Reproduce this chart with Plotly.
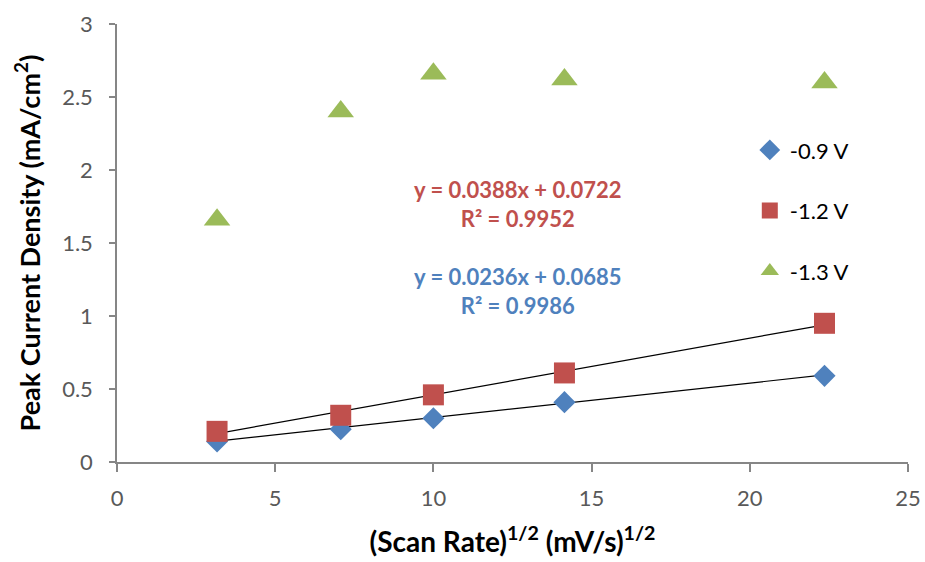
import plotly.graph_objects as go

scan_rate_sqrt = [3.162, 7.071, 10.0, 14.142, 22.361]
series_names = ["-0.9 V", "-1.2 V", "-1.3 V"]
vals_09 = [0.14, 0.225, 0.30, 0.41, 0.59]
vals_12 = [0.21, 0.32, 0.46, 0.61, 0.95]
vals_13 = [1.66, 2.40, 2.66, 2.62, 2.60]
fit_slopes = [0.0236, 0.0388]
fit_intercepts = [0.0685, 0.0722]
fit_r2 = [0.9986, 0.9952]

BLUE = "#4F81BD"
RED = "#C0504D"
GREEN = "#9BBB59"
FONT = "Lato"

fig = go.Figure()

# trendlines (linear fits, drawn from the fitted equations across the data range)
x0, x1 = scan_rate_sqrt[0], scan_rate_sqrt[-1]
for m, b in zip(fit_slopes, fit_intercepts):
    fig.add_trace(go.Scatter(x=[x0, x1], y=[m * x0 + b, m * x1 + b], mode="lines",
                             line=dict(color="#000000", width=1.2), showlegend=False,
                             hoverinfo="skip"))

fig.add_trace(go.Scatter(x=scan_rate_sqrt, y=vals_09, mode="markers", name=series_names[0],
                         legendgroup="a",
                         marker=dict(symbol="diamond", size=17, color=BLUE)))
fig.add_trace(go.Scatter(x=scan_rate_sqrt, y=vals_12, mode="markers", name=series_names[1],
                         legendgroup="b",
                         marker=dict(symbol="square", size=21, color=RED)))
fig.add_trace(go.Scatter(x=scan_rate_sqrt, y=vals_13, mode="markers", name=series_names[2],
                         legendgroup="c",
                         marker=dict(symbol="triangle-up", size=23, color=GREEN)))

fig.add_annotation(x=12.67, y=1.77, xref="x", yref="y", showarrow=False,
                   text=f"y = {fit_slopes[1]}x + {fit_intercepts[1]}<br>R² = {fit_r2[1]}",
                   font=dict(family=FONT, size=22, color=RED, weight="bold"), align="center")
fig.add_annotation(x=12.67, y=1.17, xref="x", yref="y", showarrow=False,
                   text=f"y = {fit_slopes[0]}x + {fit_intercepts[0]}<br>R² = {fit_r2[0]}",
                   font=dict(family=FONT, size=22, color=BLUE, weight="bold"), align="center")

axis_common = dict(showgrid=False, zeroline=False, showline=True, linecolor="#868686",
                   linewidth=1.5, ticks="outside", tickcolor="#868686", tickwidth=1.5,
                   automargin=False,
                   tickfont=dict(family=FONT, size=22, color="#595959"))

fig.update_layout(
    width=925, height=562,
    margin=dict(l=117, r=17, t=24, b=100),
    paper_bgcolor="white", plot_bgcolor="white",
    xaxis=dict(range=[0, 25], dtick=5, ticklen=8, ticklabelstandoff=8,
               title=dict(text="(Scan Rate)<sup>1/2</sup> (mV/s)<sup>1/2</sup>",
                          font=dict(family=FONT, size=28, color="#000000", weight="bold"),
                          standoff=22),
               **axis_common),
    yaxis=dict(range=[0, 3], dtick=0.5, ticklen=6, ticklabelstandoff=12,
               title=dict(text="Peak Current Density (mA/cm<sup>2</sup>)",
                          font=dict(family=FONT, size=27, color="#000000", weight="bold"),
                          standoff=14),
               **axis_common),
    legend=dict(x=0.80, y=0.76, xanchor="left", yanchor="top",
                font=dict(family=FONT, size=22, color="#000000"),
                tracegroupgap=29, bgcolor="rgba(0,0,0,0)", itemwidth=30),
    showlegend=True,
)

fig.write_html("out.html")
